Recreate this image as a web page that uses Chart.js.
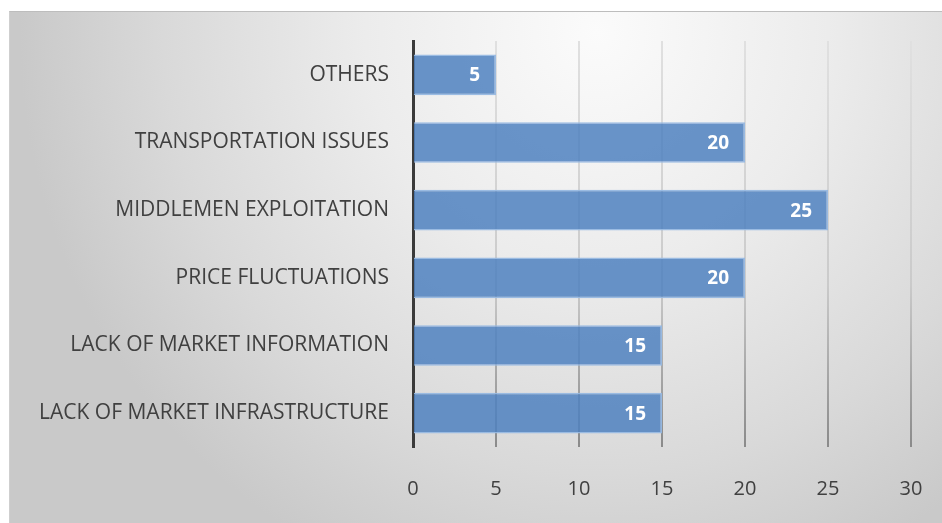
<!DOCTYPE html>
<html>
<head>
<meta charset="utf-8">
<script src="https://cdn.jsdelivr.net/npm/chart.js@4"></script>
<style>
  html, body { margin: 0; padding: 0; background: #fff; }
  #wrap {
    position: absolute; left: 9px; top: 11px; width: 933px; height: 512px;
    border-top: 1px solid #bdbdbd; border-left: 1px solid #cfcfcf;
    box-sizing: border-box;
    background: radial-gradient(ellipse 62% 115% at 63% 4%, #fbfbfb 0%, #ececec 40%, #d9d9d9 75%, #c9c9c9 100%);
  }
  #chart { position: absolute; left: 0; top: 0; }
</style>
</head>
<body>
<div id="wrap"></div>
<canvas id="chart" width="942" height="523"></canvas>
<script>
const categories = [
  'OTHERS',
  'TRANSPORTATION ISSUES',
  'MIDDLEMEN EXPLOITATION',
  'PRICE FLUCTUATIONS',
  'LACK OF MARKET INFORMATION',
  'LACK OF MARKET INFRASTRUCTURE'
]
const responses = [5, 20, 25, 20, 15, 15]
const xTicks = [0, 5, 10, 15, 20, 25, 30]

const fontFamily = "'Open Sans', 'Noto Sans', sans-serif"

// white value labels, right aligned inside the end of each bar
const barValues = {
  id: 'barValues',
  afterDatasetsDraw(chart) {
    const ctx = chart.ctx
    const meta = chart.getDatasetMeta(0)
    ctx.save()
    ctx.fillStyle = '#ffffff'
    ctx.font = 'bold 19px ' + fontFamily
    ctx.textAlign = 'right'
    ctx.textBaseline = 'middle'
    meta.data.forEach((bar, i) => {
      ctx.fillText(String(responses[i]), bar.x - 16, bar.y + 1)
    })
    ctx.restore()
  }
}

// grid lines fade from light at the top to darker at the bottom
const gridColor = context => {
  const area = context.chart.chartArea
  if (!area) return '#d0d0d0'
  const g = context.chart.ctx.createLinearGradient(0, area.top, 0, area.bottom)
  g.addColorStop(0, '#e0e0e0')
  g.addColorStop(0.6, '#cacaca')
  g.addColorStop(1, '#8a8a8a')
  return g
}

const ctx = document.getElementById('chart').getContext('2d')
const chart = new Chart(ctx, {
  type: 'bar',
  data: {
    labels: categories,
    datasets: [{
      data: responses,
      backgroundColor: 'rgba(79, 129, 192, 0.85)',
      borderColor: 'rgba(150, 184, 226, 0.95)',
      borderWidth: 1.5,
      barPercentage: 0.6,
      categoryPercentage: 1
    }]
  },
  options: {
    indexAxis: 'y',
    responsive: false,
    animation: false,
    layout: { padding: { top: 41, right: 31, left: 0, bottom: 0 } },
    plugins: {
      legend: { display: false },
      tooltip: { enabled: false }
    },
    scales: {
      x: {
        min: 0,
        max: 30,
        afterBuildTicks: axis => { axis.ticks = xTicks.map(v => ({ value: v })) },
        afterFit: axis => {
          axis.height = 76
          axis.paddingLeft = 0
          axis.paddingRight = 0
        },
        grid: { color: gridColor, lineWidth: 2, drawTicks: false },
        border: { display: false },
        ticks: {
          color: '#404040',
          padding: 30,
          font: { family: fontFamily, size: 20 }
        }
      },
      y: {
        afterFit: axis => { axis.width = 413 },
        grid: { display: false, drawTicks: false },
        border: { color: '#3a3a3a', width: 3 },
        ticks: {
          color: '#404040',
          padding: 24,
          font: { family: fontFamily, size: 21 }
        }
      }
    }
  },
  plugins: [barValues]
})
</script>
</body>
</html>
